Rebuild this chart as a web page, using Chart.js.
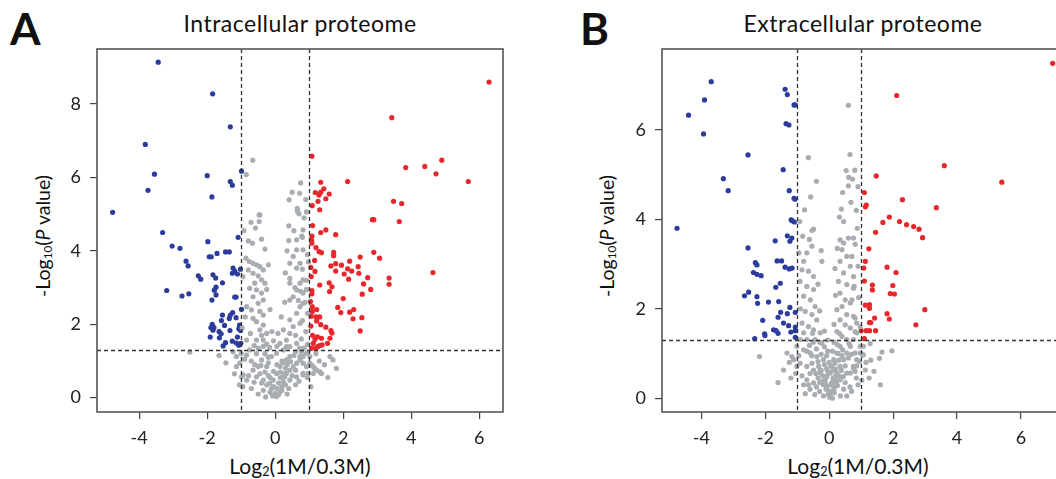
<!DOCTYPE html>
<html>
<head>
<meta charset="utf-8">
<script src="https://cdn.jsdelivr.net/npm/chart.js@4.4.1/dist/chart.umd.min.js"></script>
<style>
  html, body { margin: 0; padding: 0; background: #fff; }
  body { width: 1056px; height: 479px; position: relative; overflow: hidden; font-family: Lato, "Open Sans", sans-serif; color: #111; }
  canvas { position: absolute; top: 0; }
  .lbl { position: absolute; white-space: nowrap; line-height: 1; }
  .panel { font-weight: bold; font-size: 44px; }
  .title { font-size: 23px; letter-spacing: 0.5px; transform: translateX(-50%); }
  .xt { font-size: 21px; transform: translateX(-50%); }
  .yt { font-size: 19.5px; transform: translate(-50%, -50%) rotate(-90deg); }
  sub { font-size: 0.6em; vertical-align: -0.15em; }
</style>
</head>
<body>
<div class="lbl panel" style="left:10px; top:6px;">A</div>
<div class="lbl title" style="left:300px; top:12px;">Intracellular proteome</div>
<div class="lbl xt" style="left:300px; top:455px;">Log<sub>2</sub>(1M/0.3M)</div>
<div class="lbl yt" style="left:43px; top:236px;">-Log<sub>10</sub>(<i>P</i> value)</div>

<div class="lbl panel" style="left:580px; top:6px;">B</div>
<div class="lbl title" style="left:863px; top:12px;">Extracellular proteome</div>
<div class="lbl xt" style="left:858px; top:455px;">Log<sub>2</sub>(1M/0.3M)</div>
<div class="lbl yt" style="left:607px; top:236px;">-Log<sub>10</sub>(<i>P</i> value)</div>

<canvas id="chartA" width="530" height="479" style="left:0px"></canvas>
<canvas id="chartB" width="520" height="479" style="left:560px"></canvas>

<script>
// thresholds
const fcCut = 1;
const pCut = 1.3;

// tick labels
const xTicks = [-4, -2, 0, 2, 4, 6];
const yTicksA = [0, 2, 4, 6, 8];
const yTicksB = [0, 2, 4, 6];

// panel A - intracellular
const aUp = [[6.29,8.60],[3.43,7.63],[1.08,6.58],[3.84,6.27],[4.40,6.30],[4.90,6.47],[4.73,6.10],[5.68,5.89],[2.13,5.89],[1.34,5.87],
  [1.18,5.59],[1.29,5.52],[1.34,5.60],[1.43,5.69],[1.59,5.55],[1.49,5.42],[1.26,5.35],[1.09,5.23],[1.31,5.12],
  [3.48,5.35],[3.72,5.29],[2.86,4.85],[2.90,4.85],[3.65,4.80],
  [1.10,4.69],[1.34,4.50],[1.49,4.57],[1.78,4.44],[1.08,4.40],[1.07,4.29],[1.08,4.21],[1.20,4.09],[1.29,3.98],[1.36,3.95],
  [1.72,3.96],[1.72,3.87],[2.90,3.96],[2.50,3.83],[3.07,3.80],[1.16,3.74],[2.19,3.72],[1.64,3.59],[1.78,3.65],[1.95,3.61],
  [2.13,3.51],[2.25,3.45],[2.03,3.37],[2.44,3.57],[2.46,3.39],[1.78,3.45],[1.17,3.44],[2.72,3.27],[2.16,3.23],[3.35,3.26],
  [3.35,3.09],[4.64,3.41],[1.59,3.13],[1.67,3.02],[1.60,2.89],[1.31,3.07],[2.60,3.10],[2.56,2.82],[2.81,2.95],[1.08,2.92],
  [1.08,2.83],[2.00,2.70],[1.84,2.46],[1.93,2.32],[2.19,2.33],[2.31,2.40],[2.29,2.15],[2.55,2.18],[2.50,1.82],[1.22,2.40],
  [1.20,2.20],[1.31,2.20],[1.22,2.09],[1.34,1.99],[1.49,1.92],[1.64,1.83],[1.67,1.76],[1.61,1.62],[1.54,1.48],[1.10,1.70],
  [1.17,1.59],[1.24,1.66],[1.36,1.62],[1.12,1.48],[1.25,1.39],[1.31,1.42],[1.38,1.44],[1.07,1.35],[1.20,1.35],[1.09,2.48],
  [1.09,2.35],[1.06,2.22],[1.05,3.55],[1.06,3.30],[1.04,2.62],[1.05,1.95]];
const aDown = [[-3.44,9.14],[-1.84,8.28],[-1.32,7.38],[-3.82,6.90],[-3.55,6.09],[-2.00,6.05],[-1.32,5.89],[-1.26,5.79],[-0.99,6.17],
  [-3.74,5.65],[-1.86,5.47],[-4.78,5.05],[-3.31,4.50],[-3.03,4.13],[-2.80,4.07],[-1.98,4.25],[-1.09,4.37],[-1.94,3.84],
  [-1.88,3.84],[-1.71,3.93],[-1.46,3.97],[-1.35,3.97],[-2.62,3.72],[-2.56,3.59],[-2.26,3.32],[-2.19,3.23],[-1.83,3.35],
  [-1.75,3.26],[-1.55,3.13],[-1.24,3.53],[-1.19,3.45],[-1.26,3.39],[-1.11,3.37],[-1.02,3.50],[-3.19,2.92],[-2.74,2.77],
  [-2.54,2.83],[-1.74,3.01],[-1.79,2.93],[-1.74,2.80],[-1.86,2.66],[-1.19,2.74],[-1.15,2.74],[-0.99,2.41],[-1.25,2.32],
  [-1.32,2.25],[-1.55,2.25],[-1.35,2.16],[-1.15,2.18],[-1.58,2.10],[-1.49,1.97],[-1.85,2.00],[-1.80,1.91],[-1.89,1.91],
  [-1.83,1.84],[-1.65,1.80],[-1.59,1.74],[-1.33,1.83],[-1.05,1.98],[-1.07,1.88],[-1.02,1.83],[-1.91,1.65],[-1.64,1.63],
  [-1.46,1.50],[-1.53,1.41],[-1.26,1.54],[-1.14,1.49],[-1.07,1.43],[-1.01,1.48],[-1.11,1.65]];
const aNs = [[-0.66,6.47],[-0.85,6.08],[0.72,5.57],[0.41,5.39],[0.65,5.10],[0.65,5.16],[0.92,5.06],[-0.47,4.98],
  [-0.71,4.78],[-0.45,4.98],[-0.47,4.80],[0.40,4.68],[0.66,5.07],[0.70,5.01],[0.40,4.28],[0.63,4.30],[0.80,4.37],
  [-0.79,4.27],[-0.67,4.21],[-0.40,4.32],[-0.86,3.80],[-0.76,3.71],[-0.65,3.66],[-0.55,3.62],[-0.45,3.57],[-0.35,3.48],
  [-0.79,3.48],[-0.65,3.39],[-0.50,3.32],[-0.40,3.21],[-0.30,3.12],[-0.60,3.12],[-0.75,2.98],[-0.55,2.94],[-0.40,2.85],
  [-0.65,2.75],[-0.35,2.66],[-0.50,2.57],[-0.84,2.48],[-0.70,2.39],[-0.45,2.35],[-0.35,2.25],[-0.65,2.16],[-0.55,2.07],
  [-0.35,1.98],[-0.45,1.85],[-0.25,1.75],[-0.73,1.75],[-0.84,1.57],[-0.55,1.57],[-0.35,1.57],[-0.25,1.46],[-0.16,1.37],
  [-0.50,1.35],[-0.75,1.30],[-0.84,1.16],[-1.14,1.12],[-1.04,0.94],[-0.94,0.62],[-0.65,0.75],[-0.55,0.57],[-0.35,0.48],
  [-0.25,0.35],[-0.11,0.25],[-0.01,0.07],[0.04,0.03],[0.14,0.16],[0.19,0.30],[0.24,0.44],[0.28,0.57],[0.33,0.66],
  [0.43,0.75],[0.53,0.85],[0.63,0.94],[0.73,1.03],[0.82,1.12],[0.92,1.21],[1.02,1.12],[0.43,1.12],[0.33,1.03],[0.14,0.85],
  [0.04,0.66],[-0.06,0.48],[-0.16,0.39],[0.24,1.30],[0.43,1.39],[0.63,1.48],[0.33,1.57],[0.43,1.75],[0.24,1.85],[0.53,1.94],
  [0.73,2.03],[0.43,2.12],[0.63,2.30],[0.73,2.48],[0.82,2.57],[0.43,2.66],[0.53,2.75],[0.73,3.12],[0.82,3.21],[0.43,3.25],
  [0.63,3.53],[0.73,3.66],[0.43,3.66],[0.53,3.85],[0.82,4.03],[0.63,4.03],[0.82,4.57],[0.43,3.12],[0.63,2.94],[0.82,2.85],
  [1.02,0.94],[1.12,0.85],[1.22,0.75],[0.82,0.66],[0.63,0.57],[0.43,0.48],[-1.24,1.25],[-1.14,0.85],[-0.99,0.57],
  [-0.84,0.48],[-0.25,0.85],[-0.40,1.03],[-0.11,1.12],[0.04,1.21],[0.14,1.48],[0.33,1.39],[-2.51,1.24],
  [0.85,4.90],[0.78,4.40],[0.95,3.90],[0.80,3.50],[0.92,3.20],[0.75,2.90],[0.88,2.60],[0.95,2.30],[0.80,2.10],[0.90,1.80],
  [0.77,1.60],[0.95,1.45],[0.73,1.12],[0.82,0.94],[0.92,0.85],[1.07,0.89],[1.16,0.80],[1.31,0.71],[1.36,0.66],[1.12,0.66],
  [0.97,0.66],[0.82,0.62],[1.70,1.03],[1.61,1.12],[0.77,1.25],[-0.30,0.70],[-0.20,0.60],[0.10,0.40],[0.20,0.20],
  [-0.15,0.15],[0.05,0.25],[0.30,0.35],[-0.40,0.40],[0.50,0.60],[-0.60,0.90],[0.60,0.75],[0.35,0.90],[-0.45,0.65],
  [0.15,0.55],[0.00,0.12],[-0.05,0.30],[0.10,0.08],[-0.08,0.05],[0.25,0.65],[0.45,0.98],[-0.70,1.00],[-0.90,1.05],
  [1.30,1.00],[1.45,0.90],[-1.00,1.20],[-0.30,1.20],[0.60,1.25],[-0.20,0.95],[0.05,0.90],[-0.50,0.85],[0.70,0.45],
  [-0.92,4.55],[-0.58,4.62],[-0.30,4.05],[-0.95,3.30],[-0.20,3.62],[-0.88,2.20],[-0.25,2.95],[-0.15,2.40],[-0.97,1.90],
  [-0.62,1.42],[-0.40,1.70],[-0.10,1.80],[-0.05,1.55],[0.08,1.75],[0.18,2.20],[0.28,2.60],[0.30,3.40],[0.35,4.00],
  [0.55,4.55],[0.50,5.60],[0.75,5.85],[0.90,5.40],[0.58,3.00],[0.68,2.65],[0.92,2.95],[0.98,3.70],[0.60,1.70],[0.85,1.35],
  [0.20,1.00],[-0.15,0.55],[-0.35,0.20],[0.40,0.25],[0.60,0.35],[-0.70,0.25],[-0.95,0.30],[-1.20,0.65],[-1.45,0.95],
  [-1.65,1.15],[1.55,0.55],[1.80,0.80],[1.20,1.20],[0.95,0.55],[-0.50,0.10],[0.15,0.70],[-0.05,0.72],[0.30,0.80],
  [-0.20,1.10],[0.05,1.40],[-0.78,0.60],[-0.35,1.40],[0.55,1.15],[0.72,1.35],[-0.55,1.20],[-0.62,0.42],[0.35,0.10],
  [-0.28,0.02],[1.05,0.30],[-1.05,0.35],[0.22,0.95],[-0.42,0.88]];

// panel B - extracellular
const bUp = [[6.99,7.49],[2.11,6.77],[3.60,5.20],[1.47,4.97],[5.40,4.83],[1.10,4.60],[2.29,4.44],[3.35,4.26],[1.13,4.28],
  [1.16,4.32],[1.88,4.05],[1.68,3.93],[2.20,3.95],[2.42,3.88],[2.64,3.84],[2.81,3.78],[2.92,3.59],[1.45,3.71],[1.24,3.34],
  [1.13,3.06],[1.08,2.91],[1.10,2.62],[1.81,2.93],[2.09,2.81],[1.35,2.53],[1.35,2.42],[1.99,2.52],[1.91,2.34],[2.04,2.33],
  [1.13,2.08],[1.26,2.09],[1.26,2.01],[2.99,1.98],[1.81,1.89],[1.88,1.77],[1.42,1.79],[1.26,1.69],[1.30,1.69],[2.71,1.64],
  [1.00,1.51],[1.16,1.51],[1.26,1.51],[1.45,1.51],[1.10,1.33]];
const bDown = [[-3.69,7.08],[-3.90,6.67],[-4.40,6.33],[-3.93,5.91],[-1.38,6.91],[-1.31,6.79],[-1.10,6.56],[-1.06,6.56],
  [-1.35,6.14],[-1.26,6.11],[-2.54,5.44],[-1.44,5.11],[-3.31,4.91],[-3.16,4.64],[-1.25,4.64],[-1.10,4.47],[-1.07,4.45],
  [-1.19,3.99],[-4.76,3.80],[-1.16,3.97],[-1.09,3.94],[-2.54,3.36],[-1.69,3.52],[-1.31,3.63],[-1.17,3.58],[-1.23,3.51],
  [-2.31,3.03],[-2.26,2.98],[-1.63,3.07],[-1.49,3.07],[-1.38,2.93],[-1.25,2.89],[-1.16,2.91],[-2.37,2.81],[-2.26,2.77],
  [-2.13,2.74],[-1.53,2.57],[-1.67,2.48],[-2.52,2.37],[-2.65,2.29],[-2.26,2.27],[-2.24,2.12],[-1.90,2.15],[-1.58,2.16],
  [-1.23,2.03],[-1.06,1.92],[-1.52,1.92],[-1.31,1.89],[-1.60,1.81],[-2.08,1.74],[-1.43,1.68],[-1.27,1.62],[-1.06,1.59],
  [-1.06,1.51],[-2.02,1.44],[-2.01,1.40],[-1.74,1.53],[-1.66,1.51],[-1.60,1.45],[-1.20,1.48],[-2.33,1.33],[-1.06,1.36]];
const bNs = [[0.60,6.55],[-0.65,5.38],[0.53,5.09],[0.61,4.94],[0.73,4.90],[0.60,4.75],[0.90,4.73],[0.42,4.60],[0.68,4.38],
  [0.38,4.23],[-0.77,4.21],[0.32,4.05],[-2.18,0.93],[-0.49,3.78],[-0.54,3.75],[-0.83,3.62],[-0.23,3.06],
  [-0.54,3.40],[-0.70,3.25],[-0.80,3.06],[-0.85,2.87],[-0.65,2.84],[-0.49,2.72],[-0.91,2.61],[-0.70,2.50],[-0.49,2.43],
  [-0.80,2.28],[-0.59,2.20],[-0.44,2.05],[-0.75,1.94],[-0.54,1.87],[-0.39,1.75],[-0.85,1.68],[-0.65,1.60],[-0.49,1.53],
  [-0.28,1.46],[-0.80,1.46],[-0.91,1.31],[-0.70,1.31],[-0.44,1.31],[-0.23,1.23],[-1.01,1.16],[-0.80,1.08],[-0.59,1.01],
  [-0.39,0.93],[-0.18,0.86],[-1.11,0.86],[-0.91,0.78],[-0.70,0.71],[-0.49,0.63],[-0.28,0.56],[-0.13,0.41],[-0.07,0.26],
  [-0.02,0.11],[0.03,0.04],[0.08,0.15],[0.14,0.26],[0.19,0.41],[0.24,0.56],[0.34,0.71],[0.45,0.86],[0.55,1.01],[0.66,1.16],
  [0.76,1.31],[0.86,1.46],[0.97,1.60],[0.55,1.31],[0.34,1.16],[0.24,1.01],[0.14,0.86],[0.08,0.71],[0.03,0.56],[-0.07,0.49],
  [-0.23,0.37],[-0.33,0.71],[-0.54,0.78],[-1.01,0.71],[-1.17,0.93],[-1.32,1.01],[-1.43,0.63],[-0.70,0.41],[-0.49,0.34],
  [0.34,0.41],[0.55,0.56],[0.76,0.71],[0.86,0.86],[0.97,1.01],[1.07,1.16],[0.34,3.54],[0.45,3.47],[0.60,3.58],[0.40,3.32],
  [0.55,3.17],[0.34,3.06],[0.66,2.95],[0.45,2.80],[0.29,2.61],[0.55,2.54],[0.76,2.46],[0.34,2.35],[0.50,2.20],[0.66,2.13],
  [0.40,2.05],[0.24,1.98],[0.55,1.87],[0.76,1.83],[0.34,1.75],[0.50,1.64],[0.66,1.57],[0.81,1.49],[0.24,1.49],[0.40,1.38],
  [0.76,3.58],[0.81,3.44],[0.71,3.17],[0.76,2.72],[0.78,2.50],[0.71,2.20],[0.81,1.79],[0.86,1.68],
  [1.28,1.22],[0.97,1.16],[0.81,1.01],[1.02,0.99],[1.07,0.97],[1.65,1.03],[1.96,1.06],[1.57,0.89],[0.86,0.72],[0.76,0.67],
  [1.13,0.63],[0.81,0.60],[1.02,0.40],[0.66,0.56],[-0.10,0.20],[0.05,0.30],[-0.20,0.50],[0.20,0.65],[-0.35,0.45],
  [0.12,0.45],[-0.05,0.60],[0.30,0.50],[-0.15,0.75],[0.40,0.95],[-0.40,1.10],[0.00,0.80],[-0.60,0.55],[0.60,0.90],
  [0.10,1.05],[-0.25,0.98],[0.25,1.20],[-0.50,1.25],[0.90,0.30],[-0.80,0.30],[0.45,0.20],[-0.30,0.15],[0.02,0.02],
  [-0.02,0.08],[0.16,0.12],[-0.12,0.33],[0.22,0.35],[-0.40,0.25],[0.50,0.35],[-0.25,0.62],[0.38,0.62],[-0.08,0.95],
  [0.18,0.78],[-0.60,0.20],[0.65,0.25],[-1.20,0.45],[1.25,0.45],
  [-0.05,0.18],[0.08,0.35],[-0.18,0.30],[0.26,0.28],[-0.28,0.62],[0.12,0.62],[-0.42,0.55],[0.44,0.48],[-0.10,0.46],
  [0.20,0.50],[-0.35,0.82],[0.30,0.85],[-0.55,0.95],[0.50,0.72],[-0.70,1.05],[0.70,0.98],[-0.15,1.15],[0.15,1.25],
  [-0.05,1.05],[0.42,1.08],[-0.62,1.18],[0.62,1.22],[-0.95,0.95],[0.95,0.82],[-1.05,0.55],[1.15,0.80],[-0.85,0.50],
  [0.85,0.45],[-0.65,0.30],[0.70,0.15],[-0.45,0.08],[0.35,0.05],[-0.18,0.05],[0.10,0.00],[-0.30,0.35],[0.15,0.20],
  [-0.08,0.66],[0.05,0.72],[0.28,1.00],[-0.30,1.25],[-0.90,2.00],[-0.35,2.55],[-0.25,3.30],[-0.62,3.55],[-0.95,3.25],
  [-0.30,1.95],[-0.15,1.50],[0.15,1.65],[0.20,2.30],[0.18,2.90],[0.45,3.95],[0.85,4.20],[0.65,5.45],[0.80,5.10],
  [0.25,3.35],[0.90,2.95],[0.92,2.25],[0.88,3.80],[-0.92,3.95],[-0.58,4.50],[-0.40,4.85],[1.40,0.60],[1.30,0.85],
  [-1.25,0.80],[-1.60,0.35],[1.60,0.30],[-0.75,0.10],[0.55,0.05],[-0.52,1.45],[0.32,1.45],[-0.05,1.30]];

const blue = '#2c3c9c';
const red = '#e8262b';
const grey = '#a9adb1';

const toPts = arr => arr.map(p => ({ x: p[0], y: p[1] }));

const framePlugin = {
  id: 'frame',
  afterDatasetsDraw(chart) {
    const ctx = chart.ctx, a = chart.chartArea;
    const xs = chart.scales.x, ys = chart.scales.y;
    ctx.save();
    ctx.strokeStyle = '#333';
    ctx.lineWidth = 1.3;
    ctx.setLineDash([4, 3]);
    [-fcCut, fcCut].forEach(v => {
      const px = Math.round(xs.getPixelForValue(v)) + 0.5;
      ctx.beginPath(); ctx.moveTo(px, a.top); ctx.lineTo(px, a.bottom); ctx.stroke();
    });
    const py = Math.round(ys.getPixelForValue(pCut)) + 0.5;
    ctx.beginPath(); ctx.moveTo(a.left, py); ctx.lineTo(a.right, py); ctx.stroke();
    ctx.setLineDash([]);
    ctx.strokeStyle = '#555';
    ctx.lineWidth = 1.6;
    ctx.strokeRect(a.left, a.top, a.right - a.left, a.bottom - a.top);
    ctx.restore();
  }
};

function makeChart(id, up, down, ns, yTicks, xr, yr, yWidth, padRight) {
  new Chart(document.getElementById(id), {
    type: 'scatter',
    data: {
      datasets: [
        { data: toPts(ns), backgroundColor: grey, pointRadius: 2.6, borderWidth: 0 },
        { data: toPts(down), backgroundColor: blue, pointRadius: 2.6, borderWidth: 0 },
        { data: toPts(up), backgroundColor: red, pointRadius: 2.6, borderWidth: 0 }
      ]
    },
    options: {
      responsive: false,
      animation: false,
      events: [],
      layout: { padding: { left: 0, top: 49, right: padRight, bottom: 0 } },
      plugins: { legend: { display: false }, tooltip: { enabled: false } },
      scales: {
        x: {
          type: 'linear', min: xr[0], max: xr[1],
          afterBuildTicks: s => { s.ticks = xTicks.map(v => ({ value: v })); },
          afterFit: s => { s.height = 67; },
          border: { display: false },
          grid: { drawOnChartArea: false, drawTicks: true, tickLength: 7, color: '#444', lineWidth: 1.2 },
          ticks: { color: '#222', padding: 8, font: { family: 'Lato', size: 18 } }
        },
        y: {
          type: 'linear', min: yr[0], max: yr[1],
          afterBuildTicks: s => { s.ticks = yTicks.map(v => ({ value: v })); },
          afterFit: s => { s.width = yWidth; },
          border: { display: false },
          grid: { drawOnChartArea: false, drawTicks: true, tickLength: 7, color: '#444', lineWidth: 1.2 },
          ticks: { color: '#222', padding: 9, font: { family: 'Lato', size: 18 } }
        }
      }
    },
    plugins: [framePlugin]
  });
}

makeChart('chartA', aUp, aDown, aNs, yTicksA, [-5.24, 6.70], [-0.39, 9.50], 97, 27);
makeChart('chartB', bUp, bDown, bNs, yTicksB, [-5.23, 7.25], [-0.31, 7.81], 102, 19);
</script>
</body>
</html>
